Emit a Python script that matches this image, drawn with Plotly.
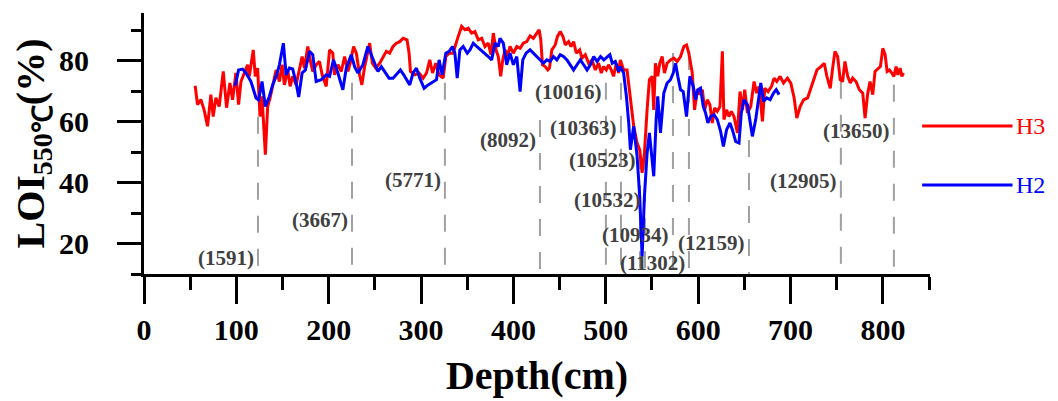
import plotly.graph_objects as go

# ---------------- data ----------------
h3_depth = [55.4, 57.9, 61.5, 65.1, 68.8, 72.4, 74.9, 77.8, 81.4, 85.8, 89.4, 93.0, 95.9, 99.5,
            102.4, 105.0, 108.6, 112.2, 114.0, 115.8, 118.3, 120.5, 123.0, 125.6, 127.8, 131.4,
            133.9, 136.5, 139.3, 143.0, 146.6, 149.5, 152.0, 155.6, 158.2, 161.0, 164.7, 168.3,
            171.2, 173.7, 177.3, 179.9, 182.7, 186.4, 190.0, 192.9, 197.3, 200.9, 204.4, 206.3,
            209.9, 213.6, 217.2, 220.8, 223.3, 226.9, 229.9, 233.4, 235.9, 238.9, 241.4, 244.3,
            247.2, 250.8, 255.2, 258.8, 262.4, 266.0, 269.6, 273.3, 276.9, 280.5, 284.8, 287.0,
            288.5, 293.2, 297.9, 302.2, 305.9, 309.4, 312.4, 315.9, 319.5, 323.9, 326.8, 330.4,
            334.7, 338.4, 341.2, 343.9, 347.5, 351.0, 354.7, 358.3, 361.9, 365.6, 369.2, 372.7,
            375.7, 378.2, 381.1, 383.6, 386.2, 388.4, 390.9, 393.4, 396.3, 399.9, 403.6, 407.2,
            410.7, 414.4, 418.0, 421.6, 425.3, 427.8, 429.6, 431.4, 434.3, 437.2, 439.0, 441.6,
            445.2, 447.7, 450.7, 453.6, 456.1, 459.7, 462.3, 465.1, 468.1, 471.7, 474.2, 477.8,
            481.4, 485.1, 488.6, 492.2, 495.1, 497.6, 500.5, 503.0, 505.9, 508.4, 511.4, 513.9,
            515.7, 519.3, 523.0, 526.6, 530.2, 533.9, 536.7, 539.3, 541.8, 544.7, 547.2, 550.2,
            551.9, 553.7, 556.2, 558.4, 561.0, 563.5, 566.4, 570.0, 573.6, 577.3, 580.9, 584.5,
            587.4, 589.9, 593.6, 596.1, 599.0, 601.8, 604.5, 607.0, 609.9, 612.7, 615.3, 617.8,
            620.7, 623.6, 626.2, 627.9, 630.8, 633.3, 635.9, 638.8, 642.5, 645.3, 647.9, 650.4,
            653.3, 656.9, 660.5, 663.4, 665.9, 669.6, 672.1, 675.7, 679.4, 682.2, 685.1, 688.7,
            692.4, 696.7, 700.3, 703.9, 706.8, 710.4, 714.1, 718.5, 721.3, 725.0, 728.6, 732.9,
            736.5, 739.4, 743.0, 745.6, 748.1, 751.0, 753.8, 756.4, 758.9, 761.9, 764.7, 767.3,
            770.9, 774.5, 778.2, 780.7, 783.6, 786.1, 789.0, 791.5, 795.1, 797.3, 799.9, 802.4,
            804.6, 807.1, 809.7, 811.9, 814.3, 816.2, 818.7, 820.5, 822.3]
h3_loi = [71.8, 65.6, 67.3, 63.9, 58.5, 68.9, 61.7, 67.9, 65.0, 76.5, 64.6, 72.7, 67.2, 76.0,
          65.6, 73.2, 76.0, 78.7, 74.9, 79.2, 83.6, 74.9, 77.6, 61.7, 68.3, 49.2,
          65.0, 67.8, 71.6, 77.0, 73.2, 78.7, 72.1, 77.0, 71.6, 74.9, 72.1, 77.6,
          81.4, 77.6, 84.7, 80.3, 76.5, 78.7, 79.8, 75.4, 71.6, 83.6, 82.5, 75.4,
          78.7, 76.5, 81.4, 76.5, 79.2, 84.7, 82.5, 75.4, 72.1, 78.1, 81.4, 85.8,
          79.2, 77.6, 79.2, 81.4, 83.1, 82.5, 84.7, 85.8, 86.3, 87.4, 86.9, 82.5,
          76.5, 75.4, 76.0, 74.3, 76.0, 80.3, 76.0, 79.2, 75.4, 74.3, 81.4, 82.5,
          82.5, 86.3, 89.1, 91.3, 90.2, 90.7, 89.1, 89.6, 86.9, 87.4, 84.7, 85.8,
          82.0, 89.1, 83.6, 81.4, 74.9, 80.3, 83.6, 81.4, 84.7, 82.5, 84.7, 84.1,
          85.8, 86.3, 88.2, 87.4, 89.1, 90.2, 86.9, 78.7, 78.1, 77.0, 77.6, 83.6,
          85.2, 88.0, 89.6, 88.0, 85.2, 86.3, 84.7, 86.3, 82.5, 83.6, 80.9, 82.0,
          79.2, 80.3, 77.0, 79.2, 76.0, 78.1, 77.0, 78.7, 77.0, 74.9, 79.2, 76.0,
          80.3, 77.0, 77.0, 67.2, 58.5, 53.0, 50.8, 43.2, 49.7, 63.9, 73.8, 74.9,
          63.9, 79.2, 74.9, 79.2, 81.4, 76.0, 79.2, 80.3, 80.9, 79.8, 81.4, 84.7,
          85.2, 82.5, 76.0, 63.9, 70.5, 68.9, 70.5, 63.9, 67.2, 65.6, 59.6, 64.5,
          63.4, 65.0, 83.1, 60.7, 63.9, 61.7, 63.4, 61.7, 56.3, 69.9, 63.9, 70.5,
          62.9, 65.0, 73.2, 69.4, 71.6, 60.1, 71.0, 69.9, 71.6, 74.3, 73.2, 74.9,
          72.7, 74.3, 72.7, 67.8, 61.2, 65.0, 67.2, 67.8, 70.5, 73.8, 77.0, 78.1,
          79.2, 74.9, 71.0, 77.6, 83.1, 81.4, 73.8, 73.2, 79.8, 74.9, 72.7, 74.3,
          73.2, 70.5, 69.4, 61.2, 69.4, 73.2, 68.9, 76.5, 77.6, 78.1, 84.1, 82.0,
          76.5, 77.0, 76.0, 74.9, 78.1, 75.4, 77.6, 74.9, 76.0]

h2_depth = [98.8, 102.4, 106.7, 110.4, 115.8, 121.3, 124.1, 127.8, 131.4, 135.7, 139.3, 143.7,
            146.6, 150.9, 153.9, 157.4, 161.0, 164.7, 167.5, 171.2, 174.8, 179.2, 182.7, 186.4,
            191.9, 197.3, 200.9, 205.2, 209.9, 215.3, 219.0, 224.4, 228.0, 231.6, 237.0, 242.4,
            246.1, 249.7, 253.3, 257.0, 260.6, 265.3, 269.6, 273.3, 277.6, 281.2, 284.8, 287.7,
            291.3, 295.0, 298.6, 303.3, 307.6, 313.0, 316.7, 319.5, 322.8, 326.8, 330.4, 334.0,
            336.6, 339.1, 342.0, 345.6, 350.0, 352.9, 356.5, 360.2, 364.5, 369.2, 372.7, 376.4,
            380.0, 383.6, 385.4, 389.0, 392.7, 396.3, 399.9, 403.6, 407.2, 410.1, 413.7, 418.0,
            421.6, 425.3, 428.9, 432.5, 436.2, 439.7, 443.3, 447.0, 450.6, 454.2, 457.9, 461.5,
            465.1, 468.8, 472.4, 476.0, 479.7, 483.3, 486.9, 490.6, 494.3, 497.9, 501.6, 504.4,
            507.0, 510.3, 513.9, 515.7, 519.3, 522.3, 524.8, 526.6, 530.2, 533.9, 536.7, 539.3,
            541.8, 544.7, 547.2, 549.1, 551.9, 554.5, 556.2, 559.2, 562.8, 566.4, 570.0, 573.0,
            575.5, 578.0, 580.9, 583.8, 587.4, 591.0, 594.7, 597.2, 599.7, 602.6, 605.5, 608.0,
            610.5, 613.5, 617.1, 620.7, 624.3, 627.3, 630.8, 634.4, 637.0, 640.6, 644.2, 646.7,
            649.6, 653.3, 656.1, 658.7, 662.3, 664.8, 667.8, 670.7, 674.3, 677.9, 681.6, 684.5,
            687.6]
h2_loi = [71.8, 77.0, 77.3, 76.0, 73.2, 67.8, 67.2, 73.2, 65.0, 68.3, 72.1, 75.4,
          78.7, 85.8, 75.4, 77.6, 77.3, 72.7, 68.1, 76.0, 77.0, 83.1, 82.0, 73.2,
          73.8, 75.4, 74.9, 80.3, 76.0, 70.5, 77.6, 82.0, 78.1, 76.0, 78.7, 84.7,
          82.0, 79.2, 76.5, 78.1, 76.5, 74.3, 74.3, 75.4, 77.0, 75.4, 73.8, 72.1,
          76.0, 77.6, 74.3, 71.0, 72.1, 73.2, 73.8, 80.3, 75.4, 82.5, 83.1, 84.7,
          82.5, 74.3, 83.6, 84.7, 82.5, 83.6, 85.8, 84.7, 83.6, 82.5, 81.4, 80.3,
          85.8, 84.7, 87.4, 85.8, 78.7, 82.5, 78.7, 81.4, 69.9, 80.3, 82.5, 83.6,
          82.5, 81.4, 80.3, 79.2, 80.3, 79.8, 81.4, 80.3, 82.0, 81.4, 80.3, 78.7,
          77.0, 78.7, 80.3, 78.7, 77.0, 78.7, 81.4, 79.8, 81.4, 80.3, 81.4, 82.0,
          79.2, 79.8, 76.5, 78.1, 76.0, 68.3, 59.6, 50.8, 58.5, 48.6, 35.5, 15.8,
          35.5, 49.7, 56.3, 50.8, 42.1, 60.7, 68.3, 56.3, 69.4, 72.7, 73.8, 76.0,
          79.2, 74.9, 70.5, 69.9, 61.7, 74.9, 71.6, 67.2, 70.5, 71.0, 65.0, 62.9,
          59.6, 61.7, 62.3, 60.7, 56.8, 51.9, 57.4, 59.6, 57.4, 53.5, 53.0, 62.9,
          67.2, 65.6, 60.7, 55.2, 60.7, 66.1, 72.7, 66.7, 67.8, 67.2, 69.4, 70.5,
          68.9]

# boundary depths (cm) and their ages
boundary_depth = [123.4, 225.2, 325.8, 428.7, 500.1, 516.4, 537.0, 542.4, 572.7, 590.0,
                  655.0, 754.5, 811.9]
boundary_age = ["(1591)", "(3667)", "(5771)", "(8092)", "(10016)", "(10363)", "(10523)",
                "(10532)", "(10934)", "(11302)", "(12159)", "(12905)", "(13650)"]

x_ticks = [0, 100, 200, 300, 400, 500, 600, 700, 800]
y_ticks = [20, 40, 60, 80]

# ---------------- layout helpers ----------------
line_top = [61.6, 72.8, 72.8, 60.6, 72.8, 72.8, 50.0, 50.0, 82.6, 82.6, 54.0, 73.1, 72.1]
label_y = [15.3, 27.8, 40.9, 54.0, 69.8, 58.0, 47.5, 34.3, 22.8, 13.6, 20.2, 40.6, 57.0]

FONT = "Liberation Serif"
fig = go.Figure()

fig.add_trace(go.Scatter(x=h3_depth, y=h3_loi, mode="lines", name="H3",
                         line=dict(color="#ff0000", width=3), showlegend=False))
fig.add_trace(go.Scatter(x=h2_depth, y=h2_loi, mode="lines", name="H2",
                         line=dict(color="#0000ff", width=3), showlegend=False))

shapes = []
annotations = []
for d, top, ly, txt in zip(boundary_depth, line_top, label_y, boundary_age):
    shapes.append(dict(type="line", xref="x", yref="y", x0=d, x1=d, y0=top, y1=10,
                       line=dict(color="#a0a0a0", width=2, dash="17px,16px"), layer="below"))
    annotations.append(dict(x=d - 2, y=ly, xref="x", yref="y", text=txt, showarrow=False,
                            xanchor="right", yanchor="middle",
                            font=dict(family=FONT, size=21, color="#404040", weight="bold")))

# manual legend
for name, col, yp in [("H3", "#ff0000", 0.567), ("H2", "#0000ff", 0.341)]:
    shapes.append(dict(type="line", xref="paper", yref="paper", x0=0.99, x1=1.105,
                       y0=yp, y1=yp, line=dict(color=col, width=3)))
    annotations.append(dict(x=1.107, y=yp, xref="paper", yref="paper", text=name,
                            showarrow=False, xanchor="left", yanchor="middle",
                            font=dict(family=FONT, size=24, color=col)))

# page body has an 8px margin: figure is 8px smaller so that it fits the window
fig.update_layout(
    width=1050, height=393,
    margin=dict(l=136, r=128, t=5, b=127),
    paper_bgcolor="white", plot_bgcolor="white",
    shapes=shapes, annotations=annotations,
    font=dict(family=FONT, color="black"),
)

fig.update_xaxes(
    range=[0, 851], tickvals=x_ticks, ticks="outside", ticklen=27, tickwidth=3,
    tickcolor="black", showline=True, linewidth=3, linecolor="black",
    showgrid=False, zeroline=False, ticklabelstandoff=0,
    tickfont=dict(family=FONT, size=30, color="black", weight="bold"),
    minor=dict(dtick=50, tick0=0, ticks="outside", ticklen=13, tickwidth=3,
               tickcolor="black", showgrid=False),
    title=dict(text="Depth(cm)", standoff=16,
               font=dict(family=FONT, size=40, color="black", weight="bold")),
    automargin=False,
)
fig.update_yaxes(
    range=[10, 95.7], tickvals=y_ticks, ticks="outside", ticklen=24, tickwidth=3,
    tickcolor="black", showline=True, linewidth=3, linecolor="black",
    showgrid=False, zeroline=False, ticklabelstandoff=22,
    tickfont=dict(family=FONT, size=30, color="black", weight="bold"),
    minor=dict(dtick=10, tick0=10, ticks="outside", ticklen=10, tickwidth=3,
               tickcolor="black", showgrid=False),
    title=dict(text="LOI<sub>550℃</sub>(%)", standoff=10,
               font=dict(family=FONT, size=40, color="black", weight="bold")),
    automargin=False,
)

fig.write_html("out.html")
